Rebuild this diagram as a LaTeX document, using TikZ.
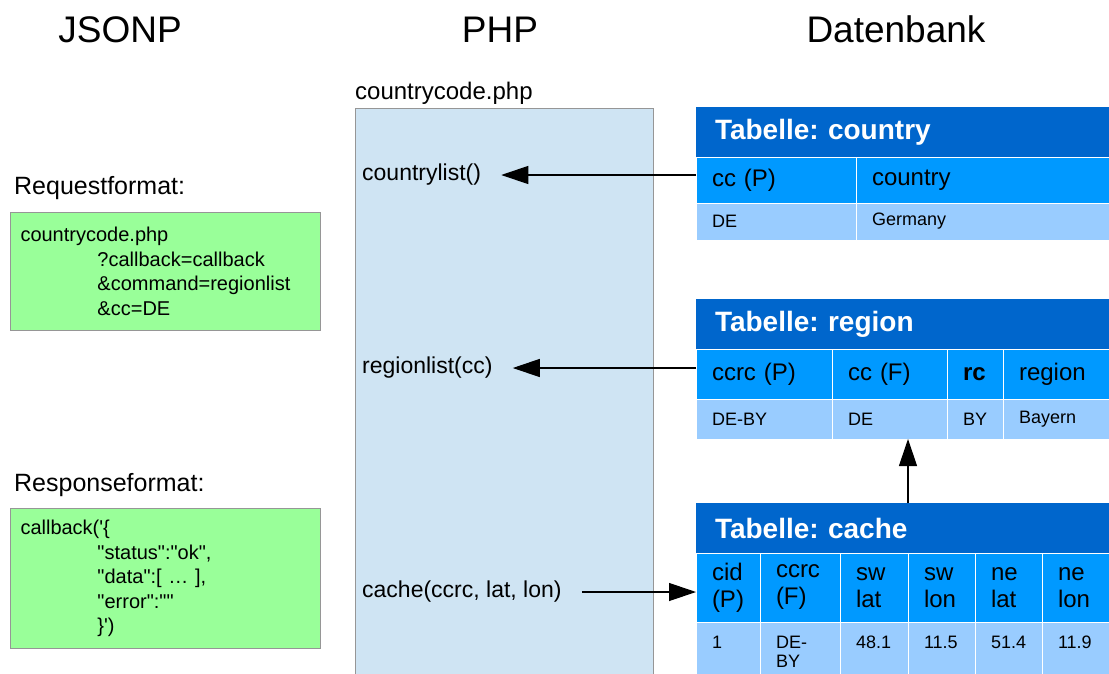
\documentclass[tikz,border=0pt]{standalone}
\usepackage{fontspec}
\setmainfont{Liberation Sans}[Ligatures=TeXOff]
\usetikzlibrary{arrows.meta,positioning}
\frenchspacing

\begin{document}
\begin{tikzpicture}[x=1pt, y=-1pt]
% Define colors
\definecolor{phpblue}{RGB}{207, 228, 243}
\definecolor{jsongreen}{RGB}{153, 255, 153}
\definecolor{titleblue}{RGB}{0, 102, 204}
\definecolor{headblue}{RGB}{0, 153, 255}
\definecolor{datablue}{RGB}{153, 204, 255}
\definecolor{boxgray}{RGB}{150, 150, 150}

\tikzset{
  heading/.style={font=\fontsize{37}{44}\selectfont, anchor=base},
  caption/.style={font=\fontsize{25}{30}\selectfont, anchor=west, inner sep=0pt},
  jsonbox/.style={draw=boxgray, fill=jsongreen, line width=1pt, anchor=north west, minimum width=310pt,
    inner xsep=10pt, text width=290pt, align=left, font=\fontsize{20}{24.5}\selectfont},
  fn/.style={anchor=west, inner xsep=20pt, font=\fontsize{23}{28}\selectfont},
  titlebar/.style={anchor=north west, fill=titleblue, text=white, outer sep=0pt, inner xsep=19pt, inner ysep=0pt,
    text width=375pt, minimum height=50pt, align=left, font=\bfseries\fontsize{28}{32}\selectfont},
  cell/.style={anchor=north west, draw=white, line width=1pt, outer sep=0pt, inner xsep=16pt, inner ysep=0pt, align=left},
  hcell/.style={cell, fill=headblue, font=\fontsize{24}{27}\selectfont},
  dcell/.style={cell, fill=datablue, font=\fontsize{18}{19}\selectfont},
  arr/.style={-{Triangle[length=27pt, width=18pt]}, line width=1.2pt}
}

\useasboundingbox (0,0) rectangle (1109,673);
\fill[white] (0,0) rectangle (1109,673);

% Headings
\node[heading] (hjsonp) at (120,42) {JSONP};
\node[heading] (hphp) at (500,42) {PHP};
\node[heading] (hdb) at (896,42) {Datenbank};

% JSONP side
\node[caption] (reqcap) at (14,188) {Requestformat:};
\node[jsonbox, minimum height=118pt] (request) at (10,212) {countrycode.php\\
\hspace*{77pt}?callback=callback\\
\hspace*{77pt}\&command=regionlist\\
\hspace*{77pt}\&cc=DE};

\node[caption] (respcap) at (14,485) {Responseformat:};
\node[jsonbox, minimum height=140pt] (response) at (10,508) {callback('\{\\
\hspace*{77pt}"status":"ok",\\
\hspace*{77pt}"data":[ … ],\\
\hspace*{77pt}"error":""\\
\hspace*{77pt}\}')};

% PHP file
\node[draw=boxgray, fill=phpblue, line width=1pt, anchor=north west, minimum width=298pt, minimum height=590pt,
  inner sep=0pt] (phpbox) at (355,108) {};
\node[anchor=south west, inner xsep=0pt, inner ysep=3pt, font=\fontsize{24}{28}\selectfont] (phpfile)
  at (phpbox.north west) {countrycode.php};
\node[fn] (countrylist) at (342,175) {countrylist()};
\node[fn] (regionlist) at (342,368) {regionlist(cc)};
\node[fn] (cachefn) at (342,592) {cache(ccrc, lat, lon)};

% Tabelle: country
\node[titlebar] (tcountry) at (696,107) {Tabelle: country};
\node[hcell, text width=128pt, minimum height=46pt] (ccP) at (tcountry.south west) {cc (P)};
\node[hcell, text width=221pt, minimum height=46pt] (hcountry) at (ccP.north east) {country};
\node[dcell, text width=128pt, minimum height=37pt] (cDE) at (ccP.south west) {DE};
\node[dcell, text width=221pt, minimum height=37pt] (cGermany) at (cDE.north east) {Germany};

% Tabelle: region
\node[titlebar] (tregion) at (696,299) {Tabelle: region};
\node[hcell, text width=104pt, minimum height=50pt] (ccrcP) at (tregion.south west) {ccrc (P)};
\node[hcell, text width=83pt, minimum height=50pt] (ccF) at (ccrcP.north east) {cc (F)};
\node[hcell, text width=24pt, minimum height=50pt] (rc) at (ccF.north east) {\bfseries rc};
\node[hcell, text width=74pt, minimum height=50pt] (hregion) at (rc.north east) {region};
\node[dcell, text width=104pt, minimum height=40pt] (rDEBY) at (ccrcP.south west) {DE-BY};
\node[dcell, text width=83pt, minimum height=40pt] (rDE) at (rDEBY.north east) {DE};
\node[dcell, text width=24pt, minimum height=40pt] (rBY) at (rDE.north east) {BY};
\node[dcell, text width=74pt, minimum height=40pt] (rBayern) at (rBY.north east) {Bayern};

% Tabelle: cache
\node[titlebar] (tcache) at (696,503) {Tabelle: cache};
\node[hcell, text width=32pt, minimum height=69pt] (cidP) at (tcache.south west) {cid\\(P)};
\node[hcell, text width=48pt, minimum height=69pt] (ccrcF) at (cidP.north east) {ccrc\\(F)};
\node[hcell, text width=36pt, minimum height=69pt] (swlat) at (ccrcF.north east) {sw\\lat};
\node[hcell, text width=35pt, minimum height=69pt] (swlon) at (swlat.north east) {sw\\lon};
\node[hcell, text width=35pt, minimum height=69pt] (nelat) at (swlon.north east) {ne\\lat};
\node[hcell, text width=35pt, minimum height=69pt] (nelon) at (nelat.north east) {ne\\lon};
\node[dcell, text width=32pt, minimum height=60pt] (kOne) at (cidP.south west) {1\\\mbox{}};
\node[dcell, text width=48pt, minimum height=60pt] (kDEBY) at (kOne.north east) {DE-\\BY};
\node[dcell, text width=36pt, minimum height=60pt] (kswlat) at (kDEBY.north east) {48.1\\\mbox{}};
\node[dcell, text width=35pt, minimum height=60pt] (kswlon) at (kswlat.north east) {11.5\\\mbox{}};
\node[dcell, text width=35pt, minimum height=60pt] (knelat) at (kswlon.north east) {51.4\\\mbox{}};
\node[dcell, text width=35pt, minimum height=60pt] (knelon) at (knelat.north east) {11.9\\\mbox{}};

% Connectors
\draw[arr] (countrylist.east -| ccP.west) -- (countrylist.east);
\draw[arr] (regionlist.east -| ccrcP.west) -- (regionlist.east);
\draw[arr] (cachefn.east) -- (cachefn.east -| cidP.west);
\draw[arr] (tcache.north -| swlon.west) -- (rDE.south -| swlon.west);

\end{tikzpicture}
\end{document}
